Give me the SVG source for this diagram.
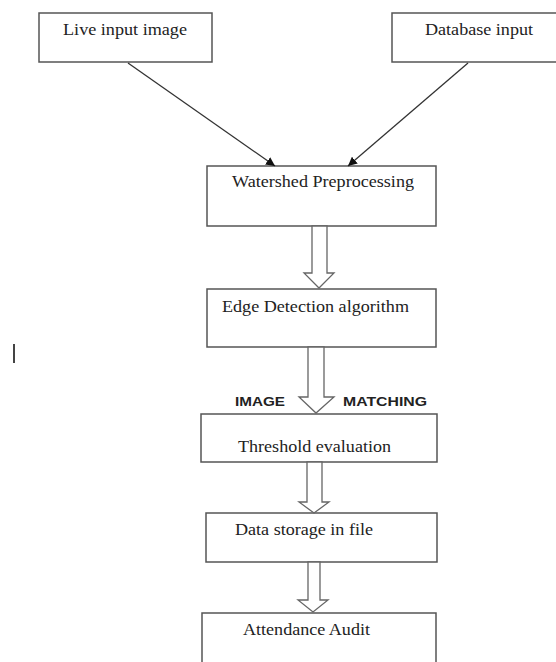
<svg xmlns="http://www.w3.org/2000/svg" width="556" height="662" viewBox="0 0 556 662">
<style>
.box{fill:#fff;stroke:#555;stroke-width:1.5}
.t{font-family:"Liberation Serif",serif;font-size:16px;fill:#222}
.lbl{font-family:"Liberation Sans",Arial,sans-serif;font-weight:bold;font-size:13px;fill:#222}
.line{stroke:#333;stroke-width:1.3;fill:none}
.hollow{fill:#fff;stroke:#666;stroke-width:1.3}
</style>
<defs>
<marker id="ah" viewBox="0 0 10 10" refX="10" refY="5" markerWidth="9" markerHeight="9" markerUnits="userSpaceOnUse" orient="auto">
<path d="M0,0 L10,5 L0,10 z" fill="#111"/>
</marker>
</defs>
<rect width="556" height="662" fill="#fff"/>
<g id="live"><rect class="box" x="39" y="13" width="173" height="49"/><text class="t" x="63" y="35" textLength="124" lengthAdjust="spacingAndGlyphs">Live input image</text></g>
<g id="database"><rect class="box" x="392" y="13" width="170" height="49"/><text class="t" x="425" y="35" textLength="108" lengthAdjust="spacingAndGlyphs">Database input</text></g>
<g id="watershed"><rect class="box" x="207" y="166" width="229" height="60"/><text class="t" x="232" y="187" textLength="182" lengthAdjust="spacingAndGlyphs">Watershed Preprocessing</text></g>
<g id="edge"><rect class="box" x="207" y="289" width="229" height="58"/><text class="t" x="222" y="312" textLength="187" lengthAdjust="spacingAndGlyphs">Edge Detection algorithm</text></g>
<g id="threshold"><rect class="box" x="201" y="414" width="236" height="48"/><text class="t" x="238" y="452" font-size="19" textLength="153" lengthAdjust="spacingAndGlyphs">Threshold evaluation</text></g>
<g id="datastorage"><rect class="box" x="206" y="513" width="231" height="49"/><text class="t" x="235" y="535" textLength="138" lengthAdjust="spacingAndGlyphs">Data storage in file</text></g>
<g id="attendance"><rect class="box" x="202" y="613" width="234" height="60"/><text class="t" x="243" y="635" textLength="127" lengthAdjust="spacingAndGlyphs">Attendance Audit</text></g>
<g id="connectors">
<line class="line" x1="128" y1="63" x2="275" y2="166" marker-end="url(#ah)"/>
<line class="line" x1="468" y1="63" x2="348" y2="166" marker-end="url(#ah)"/>
<polygon class="hollow" points="312,226 327,226 327,273 334,273 319,288 304,273 312,273"/>
<polygon class="hollow" points="308,347 324,347 324,397 334,397 316,413 299,397 308,397"/>
<polygon class="hollow" points="307,462 322,462 322,502 329,502 314,513 299,502 307,502"/>
<polygon class="hollow" points="308,562 320,562 320,600 328,600 313,612 298,600 308,600"/>
<text class="lbl" x="235" y="406" textLength="50" lengthAdjust="spacingAndGlyphs">IMAGE</text>
<text class="lbl" x="343" y="406" textLength="84" lengthAdjust="spacingAndGlyphs">MATCHING</text>
</g>
<rect x="13" y="344" width="2" height="19" fill="#444"/>
</svg>
